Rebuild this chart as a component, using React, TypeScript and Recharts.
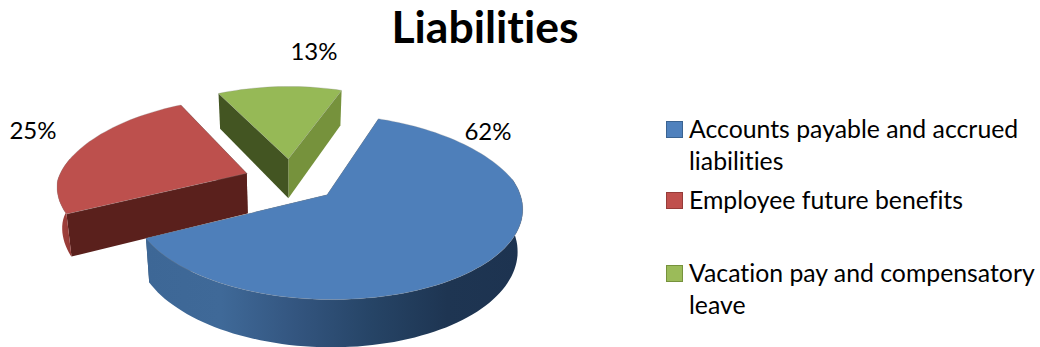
import { Legend, Pie, PieChart } from 'recharts'

const categories = [
  'Accounts payable and accrued liabilities',
  'Employee future benefits',
  'Vacation pay and compensatory leave',
]
const shares = [62, 25, 13]

// Painted far-to-near, so the table runs backwards and the pie counter-clockwise
const pieData = categories.map((name, i) => ({ name, value: shares[i] })).reverse()

const FONT = 'Lato, Carlito, sans-serif'
const TILT = 87 / 189
const PERSPECTIVE = 0.13
const FAR_NARROWING = 0.05
const BASE_NARROWING = 0.022
const EXPLODE = 0.25
const DEPTH = 40.5

const sliceStyles: Record<string, { top: string; startFace: string; endFace: string; rim: string[] }> = {
  [categories[0]]: {
    top: '#4e7fba',
    startFace: '#2f5070',
    endFace: '#2f5070',
    rim: ['#3d6796', '#3f6998', '#33557f', '#264466', '#1e3552', '#1d3350'],
  },
  [categories[1]]: {
    top: '#bd504d',
    startFace: '#5a201c',
    endFace: '#5a201c',
    rim: ['#a5433f', '#8f3733'],
  },
  [categories[2]]: {
    top: '#96b956',
    startFace: '#76923c',
    endFace: '#435522',
    rim: ['#76923c', '#76923c'],
  },
}
const legendColors = ['#4f81bd', '#c0504d', '#9bbb59']
const legendBorders = ['#3a6391', '#963c39', '#76923c']

const labelSpots: Record<string, { x: number; y: number }> = {
  [categories[0]]: { x: 488, y: 130 },
  [categories[1]]: { x: 33, y: 129 },
  [categories[2]]: { x: 314, y: 50 },
}

const rad = (deg: number) => (deg * Math.PI) / 180

function sliceGeometry(cx: number, cy: number, r: number, midAngle: number) {
  const ox = EXPLODE * Math.cos(rad(midAngle))
  const oz = EXPLODE * Math.sin(rad(midAngle))
  // disc point (unit radius) to screen: far side shrinks, base sits slightly inward
  const project = (u: number, v: number, drop = 0) => {
    const wx = ox + u
    const wz = oz + v
    const s = 1 / (1 + PERSPECTIVE * wz)
    const narrow = (1 / (1 + FAR_NARROWING * Math.max(wz, 0))) * (1 - BASE_NARROWING * drop)
    return [cx + r * wx * s * narrow, cy - r * TILT * wz * s + DEPTH * s * drop]
  }
  const onRim = (deg: number, drop = 0) => project(Math.cos(rad(deg)), Math.sin(rad(deg)), drop)
  return { project, onRim }
}

const toPath = (pts: number[][]) =>
  pts.map((p, i) => `${i ? 'L' : 'M'}${p[0].toFixed(1)} ${p[1].toFixed(1)}`).join('') + 'Z'

function angleRange(from: number, to: number) {
  const out: number[] = []
  for (let a = from; a < to; a += 2) out.push(a)
  out.push(to)
  return out
}

function SliceShape(props: any) {
  const { cx, cy, outerRadius, startAngle, endAngle, midAngle, name } = props
  const style = sliceStyles[name]
  const { project, onRim } = sliceGeometry(cx, cy, outerRadius, midAngle)
  const gradientId = `rim-${style.top.slice(1)}`

  const face = (deg: number) =>
    toPath([project(0, 0), onRim(deg), onRim(deg, 1), project(0, 0, 1)])

  // outer wall only shows on the near half of the disc
  const wallFrom = Math.max(startAngle, 170)
  const wallTo = Math.min(endAngle, 370)
  const wall = wallFrom < wallTo ? angleRange(wallFrom, wallTo) : []
  const wallPath = wall.length
    ? toPath([...wall.map((a) => onRim(a)), ...[...wall].reverse().map((a) => onRim(a, 1))])
    : null

  const rimTop = angleRange(startAngle, endAngle).map((a) => onRim(a))

  return (
    <g>
      <defs>
        <linearGradient id={gradientId} x1="0" y1="0" x2="1" y2="0">
          {style.rim.map((c, i) => (
            <stop key={i} offset={i / (style.rim.length - 1)} stopColor={c} />
          ))}
        </linearGradient>
      </defs>
      <path d={face(startAngle)} fill={style.startFace} />
      <path d={face(endAngle)} fill={style.endFace} />
      {wallPath && <path d={wallPath} fill={`url(#${gradientId})`} />}
      <path
        d={toPath([project(0, 0), ...rimTop])}
        fill={style.top}
        stroke="#8c8c8c"
        strokeOpacity={0.35}
        strokeWidth={0.8}
      />
    </g>
  )
}

function renderLabel(props: any) {
  const spot = labelSpots[props.name]
  return (
    <text
      key={props.name}
      x={spot.x}
      y={spot.y}
      textAnchor="middle"
      dominantBaseline="central"
      fontFamily={FONT}
      fontSize={24}
      fill="#000"
    >
      {`${props.value}%`}
    </text>
  )
}

const legendLines = [
  ['Accounts payable and accrued', 'liabilities'],
  ['Employee future benefits'],
  ['Vacation pay and compensatory', 'leave'],
]
const legendTops = [113, 184, 257]

function ChartLegend() {
  return (
    <div
      style={{
        position: 'relative',
        width: 375,
        height: 230,
        fontFamily: FONT,
        fontSize: 24.8,
        lineHeight: '32px',
        fontVariantLigatures: 'none',
        color: '#000',
      }}
    >
      {legendLines.map((lines, i) => (
        <div key={i} style={{ position: 'absolute', left: 0, top: legendTops[i] - 113 }}>
          <span
            style={{
              position: 'absolute',
              left: 0,
              top: 8,
              width: 15,
              height: 15,
              background: legendColors[i],
              border: `1px solid ${legendBorders[i]}`,
            }}
          />
          <div style={{ marginLeft: 23, whiteSpace: 'nowrap' }}>
            {lines.map((line) => (
              <div key={line}>{line}</div>
            ))}
          </div>
        </div>
      ))}
    </div>
  )
}

export default function App() {
  return (
    <div style={{ position: 'absolute', left: 0, top: 0, width: 1040, height: 347, background: '#fff', overflow: 'hidden' }}>
      <div
        style={{
          position: 'absolute',
          left: 285,
          width: 400,
          top: -2,
          textAlign: 'center',
          fontFamily: FONT,
          fontWeight: 700,
          fontSize: 44.5,
          lineHeight: '56px',
          fontVariantLigatures: 'none',
          color: '#000',
        }}
      >
        Liabilities
      </div>
      <PieChart width={1040} height={347} margin={{ top: 0, right: 0, bottom: 0, left: 0 }}>
        <Pie
          data={pieData}
          dataKey="value"
          nameKey="name"
          cx={291}
          cy={180}
          innerRadius={0}
          outerRadius={189}
          startAngle={70}
          endAngle={430}
          stroke="none"
          shape={SliceShape}
          label={renderLabel}
          labelLine={false}
          isAnimationActive={false}
        />
        <Legend
          content={ChartLegend}
          wrapperStyle={{ position: 'absolute', left: 666, top: 113, width: 375, height: 230 }}
        />
      </PieChart>
    </div>
  )
}
